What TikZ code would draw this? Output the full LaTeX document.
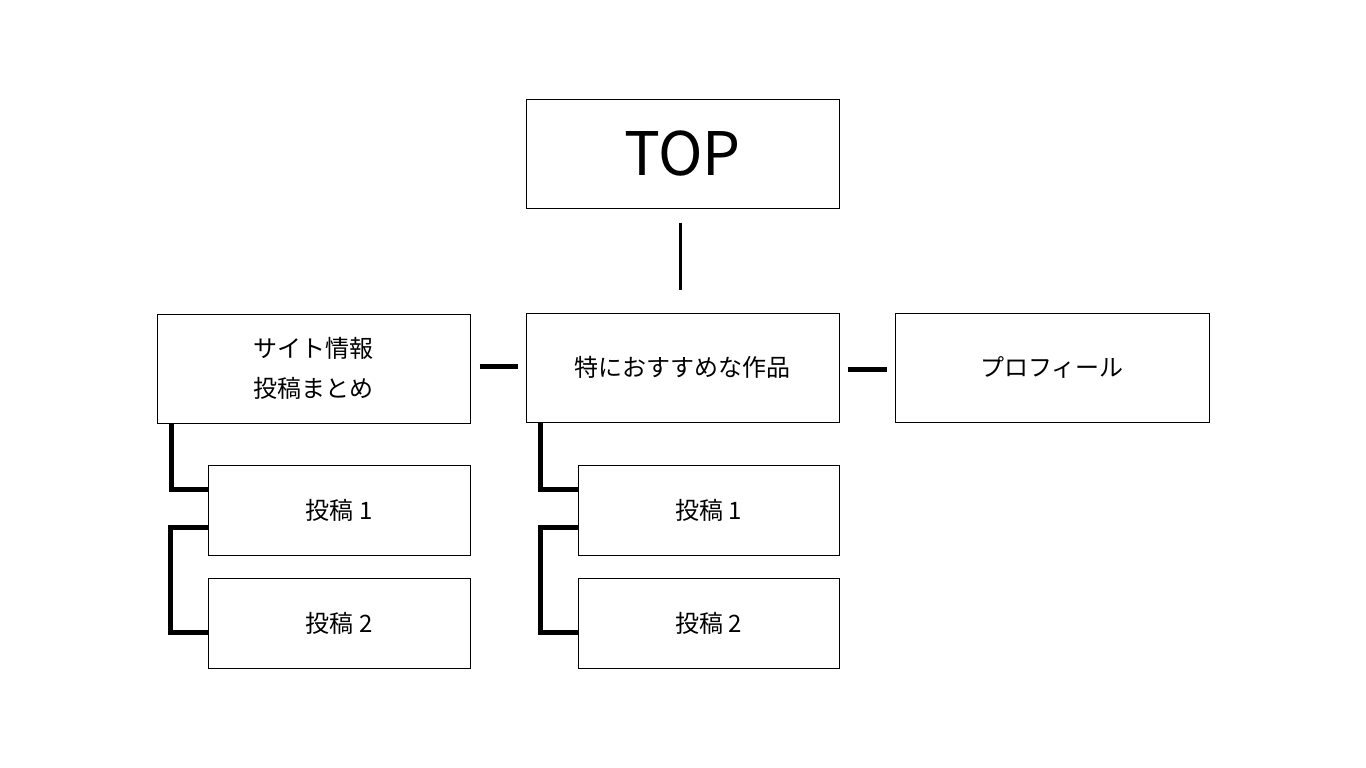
\documentclass[tikz,border=0pt]{standalone}
\usepackage{fontspec}
\newfontfamily\jp{Noto Sans CJK JP}
\usetikzlibrary{calc}
\tikzset{
  box/.style={draw=black, line width=1pt, fill=white, inner sep=0pt, font=\jp\fontsize{24}{40}\selectfont, align=center},
  bigbox/.style={box, minimum width=313pt, minimum height=109pt},
  subbox/.style={box, minimum width=262pt, minimum height=90pt},
  conn/.style={draw=black, line width=5pt},
}
\begin{document}
\begin{tikzpicture}[x=1pt,y=-1pt]
\useasboundingbox[fill=white] (0,0) rectangle (1366,768);
\node[bigbox, font=\jp\fontsize{60}{70}\selectfont] (top) at (682.5,153.5) {TOP};
\node[bigbox] (left) at (313.5,368.5) {サイト情報\\投稿まとめ};
\node[bigbox] (mid) at (682.5,367.5) {特におすすめな作品};
\node[bigbox, minimum width=314pt] (right) at (1052,367.5) {プロフィール};
\node[subbox] (l1) at (339,510) {投稿\ 1};
\node[subbox] (l2) at (339,623) {投稿\ 2};
\node[subbox, minimum width=261pt] (m1) at (708.5,510) {投稿\ 1};
\node[subbox, minimum width=261pt] (m2) at (708.5,623) {投稿\ 2};
% top connector
\coordinate (t1) at ($(top.south)+(-2.5,14)$);
\coordinate (t2) at ($(mid.north)+(-2.5,-23)$);
\draw[line width=3pt] (t1) -- (t2);
% horizontal connectors
\coordinate (h1) at ($(left.east)+(9,-2.5)$);
\coordinate (h2) at ($(mid.west)+(-8,-1.5)$);
\draw[conn] (h1) -- (h2);
\coordinate (h3) at ($(mid.east)+(8,1.5)$);
\coordinate (h4) at ($(right.west)+(-8,1.5)$);
\draw[conn] (h3) -- (h4);
% left tree
\draw[conn] ($(left.south west)+(15,0)$) |- ($(l1.north west)!0.28!(l1.south west)$);
\draw[conn] ($(l1.north west)!0.69!(l1.south west)$) -| ($(l1.south west)+(-37.5,0)$) |- ($(l2.north west)!0.6!(l2.south west)$);
% mid tree
\draw[conn] ($(mid.south west)+(15,0)$) |- ($(m1.north west)!0.28!(m1.south west)$);
\draw[conn] ($(m1.north west)!0.69!(m1.south west)$) -| ($(m1.south west)+(-37.5,0)$) |- ($(m2.north west)!0.6!(m2.south west)$);
\end{tikzpicture}
\end{document}
